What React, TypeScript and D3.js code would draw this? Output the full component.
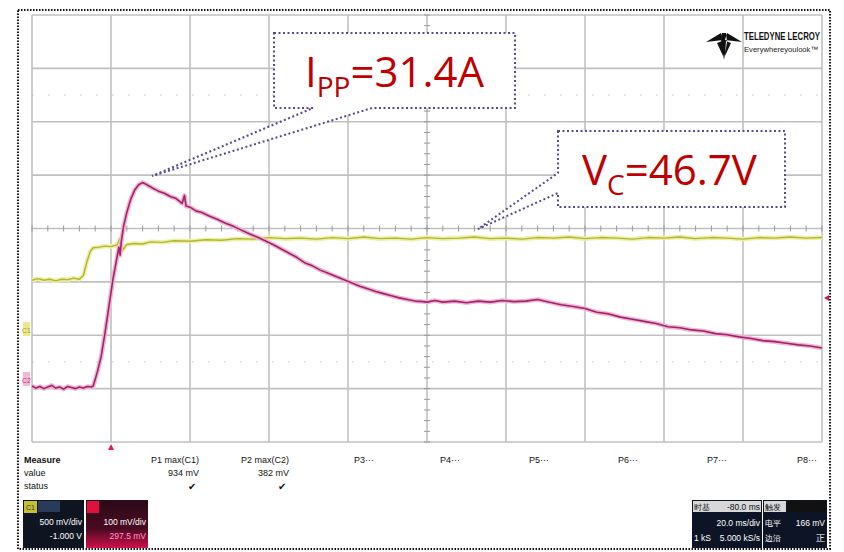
import React from "react";
import * as d3 from "d3";

// ---- data (time in ms, values in screen divisions) ----
const c1Time = [0, 1.5, 3, 4.5, 6, 7.5, 9, 10.5, 12, 13, 14, 14.8, 15.5, 17, 18.5, 20, 21.5, 22.2, 22.8, 24, 26, 28, 30, 33, 36, 40, 44, 48, 52, 56, 60, 64, 68, 72, 76, 80, 84, 88, 92, 96, 100, 104, 108, 112, 116, 120, 124, 128, 132, 136, 140, 144, 148, 152, 156, 160, 164, 168, 172, 176, 180, 184, 188, 192, 196, 200];
const c1Value = [-0.97, -0.94, -0.97, -0.95, -0.98, -0.95, -0.96, -0.93, -0.95, -0.88, -0.6, -0.42, -0.36, -0.35, -0.33, -0.34, -0.31, -0.2, -0.42, -0.3, -0.28, -0.29, -0.25, -0.26, -0.23, -0.24, -0.21, -0.22, -0.19, -0.2, -0.17, -0.19, -0.18, -0.2, -0.17, -0.19, -0.16, -0.19, -0.18, -0.2, -0.17, -0.19, -0.18, -0.16, -0.19, -0.18, -0.2, -0.17, -0.18, -0.16, -0.19, -0.17, -0.18, -0.2, -0.17, -0.18, -0.16, -0.19, -0.17, -0.18, -0.2, -0.17, -0.18, -0.16, -0.18, -0.17];

const c2Time = [0, 1, 2, 3, 4, 5, 6, 7, 8, 9, 10, 11, 12, 13, 14, 15, 15.5, 16.5, 17.5, 18.5, 19.5, 20.5, 21.5, 22.0, 22.3, 22.6, 23.2, 24, 25, 26, 27, 28, 28.6, 29.5, 30.5, 32, 33.5, 35, 36.5, 38, 38.6, 39, 40, 41.5, 43, 45, 47, 49, 51, 53, 55, 57, 59, 61, 63, 65, 67, 69, 71, 73, 75, 77, 79, 81, 83, 85, 87, 89, 91, 93, 95, 97, 99, 100, 102, 104, 107, 110, 113, 116, 119, 122, 125, 128, 131, 134, 137, 140, 143, 146, 149, 152, 155, 158, 161, 164, 167, 170, 173, 176, 179, 182, 185, 188, 191, 194, 197, 200];
const c2Value = [-2.95, -2.99, -2.96, -3.0, -2.97, -2.94, -2.99, -2.97, -3.01, -2.96, -2.98, -3.0, -2.97, -2.99, -2.96, -2.97, -2.95, -2.7, -2.4, -1.95, -1.45, -0.95, -0.55, -0.35, -0.5, -0.25, 0.05, 0.3, 0.55, 0.72, 0.82, 0.86, 0.84, 0.8, 0.76, 0.7, 0.66, 0.6, 0.56, 0.47, 0.62, 0.42, 0.4, 0.33, 0.3, 0.23, 0.17, 0.1, 0.04, -0.03, -0.1, -0.16, -0.23, -0.3, -0.38, -0.46, -0.54, -0.64, -0.7, -0.78, -0.84, -0.9, -0.96, -1.02, -1.08, -1.13, -1.18, -1.22, -1.26, -1.3, -1.33, -1.36, -1.37, -1.38, -1.35, -1.38, -1.36, -1.39, -1.36, -1.38, -1.35, -1.37, -1.36, -1.33, -1.38, -1.43, -1.46, -1.5, -1.57, -1.6, -1.66, -1.7, -1.74, -1.78, -1.84, -1.86, -1.9, -1.92, -1.97, -1.99, -2.03, -2.06, -2.1, -2.12, -2.15, -2.18, -2.2, -2.24];

const measureLabels = ["P1 max(C1)", "P2 max(C2)", "P3···", "P4···", "P5···", "P6···", "P7···", "P8···"];
const measureValues = ["934 mV", "382 mV", "", "", "", "", "", ""];
const xDivs = d3.range(0, 11);
const yDivs = d3.range(-4, 5);

const annotation1 = { main: "I", sub: "PP", rest: "=31.4A" };
const annotation2 = { main: "V", sub: "C", rest: "=46.7V" };

export default function App() {
  const left = 32, right = 822, top = 15, bottom = 442;
  const x = d3.scaleLinear().domain([0, 200]).range([left, right]);
  const y = d3.scaleLinear().domain([-4, 4]).range([bottom, top]);
  const xd = d3.scaleLinear().domain([0, 10]).range([left, right]);

  const line = d3.line<[number, number]>().x(d => x(d[0])).y(d => y(d[1]));
  const c1 = line(c1Time.map((t, i) => [t, c1Value[i]]) as [number, number][]) || "";
  const c2 = line(c2Time.map((t, i) => [t, c2Value[i]]) as [number, number][]) || "";

  const cx = xd(5), cy = y(0);
  const smallX = d3.range(0, 50.01, 1).map(i => xd(i / 5));
  const smallY = d3.range(-20, 20.01, 1).map(i => y(i / 5));

  const ff = "'Liberation Sans Narrow', 'Liberation Sans', Arial, sans-serif";
  const annFont = "'Open Sans', 'Noto Sans', sans-serif";
  const red = "#c00000";
  const purple = "#5b4a8b";

  return (
    <svg width={844} height={552} style={{ position: "absolute", left: 0, top: 0, background: "#fff" }}>
      {/* faint dotted rows */}
      {[y(2.5), y(-2.5)].map((yy, i) => (
        <line key={"f" + i} x1={left} x2={right} y1={yy} y2={yy} stroke="#e4e4e4" strokeWidth={2} strokeDasharray="2,14" />
      ))}
      {/* grid */}
      {xDivs.map(i => (
        <line key={"vx" + i} x1={xd(i)} x2={xd(i)} y1={top} y2={bottom} stroke="#c0c0c0" strokeWidth={1.6} />
      ))}
      {yDivs.map(i => (
        <line key={"hy" + i} x1={left} x2={right} y1={y(i)} y2={y(i)} stroke="#c0c0c0" strokeWidth={1.6} />
      ))}
      {smallX.map((xx, i) => (
        <line key={"tx" + i} x1={xx} x2={xx} y1={cy - 3} y2={cy + 3} stroke="#999" strokeWidth={1} />
      ))}
      {smallY.map((yy, i) => (
        <line key={"ty" + i} x1={cx - 3} x2={cx + 3} y1={yy} y2={yy} stroke="#999" strokeWidth={1} />
      ))}

      {/* traces */}
      <path d={c1} fill="none" stroke="#eef0a8" strokeWidth={4.5} strokeLinejoin="round" />
      <path d={c1} fill="none" stroke="#b4b434" strokeWidth={1.4} strokeLinejoin="round" />
      <path d={c2} fill="none" stroke="#f3b3d6" strokeWidth={4.5} strokeLinejoin="round" />
      <path d={c2} fill="none" stroke="#9c2668" strokeWidth={1.6} strokeLinejoin="round" />

      {/* channel labels & markers */}
      <rect x={23} y={322} width={7} height={14} fill="#e8e890" />
      <text x={26.5} y={333} fontSize={7} fill="#a0a020" textAnchor="middle" fontFamily={ff}>C1</text>
      <rect x={23} y={372} width={7} height={14} fill="#f4b8d8" />
      <text x={26.5} y={383} fontSize={7} fill="#c03080" textAnchor="middle" fontFamily={ff}>C2</text>
      <path d={`M${xd(1) - 3},${bottom + 8} L${xd(1) + 3},${bottom + 8} L${xd(1)},${bottom + 2} Z`} fill="#e02050" />
      <path d={`M${right + 7},${y(-1.3) - 3} L${right + 7},${y(-1.3) + 3} L${right + 2},${y(-1.3)} Z`} fill="#c02060" />

      {/* logo */}
      <g transform="translate(706,32)">
        <path d="M0,10 L15,1 L17,8 Z M36,10 L21,1 L19,8 Z M16,1 L20,1 L21,10 L18,28 L15,10 Z M11,11 L16,9 L17,24 Z M25,11 L20,9 L19,24 Z" fill="#111" />
        <text x={38} y={8} fontSize={10} fontWeight="bold" fontFamily={ff} fill="#111" textLength={76} lengthAdjust="spacingAndGlyphs">TELEDYNE LECROY</text>
        <text x={38} y={20} fontSize={8} fontFamily={ff} fill="#222" textLength={74} lengthAdjust="spacingAndGlyphs">Everywhereyoulook™</text>
      </g>

      {/* callouts */}
      <path d="M274,33 H515 V108 H372 L152,176 L313,108 H274 Z" fill="#fff" stroke={purple} strokeWidth={2} strokeDasharray="2,2.5" />
      <text x={305} y={87} fill={red} fontFamily={annFont} fontSize={42}>
        {annotation1.main}
        <tspan fontSize={28} dy={10}>{annotation1.sub}</tspan>
        <tspan dy={-10}>{annotation1.rest}</tspan>
      </text>
      <path d="M558,131 H785 V207 H558 V193 L478,229 L558,173 Z" fill="#fff" stroke={purple} strokeWidth={2} strokeDasharray="2,2.5" />
      <text x={582} y={185} fill={red} fontFamily={annFont} fontSize={42}>
        {annotation2.main}
        <tspan fontSize={28} dy={10}>{annotation2.sub}</tspan>
        <tspan dy={-10}>{annotation2.rest}</tspan>
      </text>

      {/* measure table */}
      <g fontFamily={ff} fontSize={9} fill="#111">
        <text x={24} y={463} fontWeight="bold">Measure</text>
        <text x={24} y={476}>value</text>
        <text x={24} y={489}>status</text>
        {measureLabels.map((m, i) => {
          const px = i < 2 ? [199, 289][i] : [354, 440, 529, 618, 707, 797][i - 2];
          return (
            <g key={m}>
              <text x={px} y={463} textAnchor={i < 2 ? "end" : "start"}>{m}</text>
              {measureValues[i] && <text x={px} y={476} textAnchor="end">{measureValues[i]}</text>}
              {measureValues[i] && <text x={px - 3} y={490} textAnchor="end" fontSize={10}>✔</text>}
            </g>
          );
        })}
      </g>

      {/* channel boxes */}
      <defs>
        <linearGradient id="c2g" x1="0" y1="0" x2="0" y2="1">
          <stop offset="0" stopColor="#2a0a18" />
          <stop offset="0.6" stopColor="#4a0a22" />
          <stop offset="1" stopColor="#d0104a" />
        </linearGradient>
      </defs>
      <g fontFamily={ff} fontSize={8.5}>
        <rect x={23} y={500} width={61} height={48} fill="#0e1420" />
        <rect x={38} y={501} width={22} height={11} fill="#2a3a5a" />
        <rect x={24} y={501} width={13} height={12} fill="#c8c030" />
        <text x={26} y={510} fontSize={7} fill="#333">C1</text>
        <text x={82} y={525} fill="#fff" textAnchor="end">500 mV/div</text>
        <text x={82} y={539} fill="#fff" textAnchor="end">-1.000 V</text>
        <rect x={86} y={500} width={62} height={48} fill="url(#c2g)" />
        <rect x={87} y={501} width={12} height={12} fill="#e01040" />
        <text x={146} y={525} fill="#fff" textAnchor="end">100 mV/div</text>
        <text x={146} y={539} fill="#ff9ac8" textAnchor="end">297.5 mV</text>

        <rect x={692} y={500} width={70} height={48} fill="#0c1426" />
        <rect x={693} y={501} width={68} height={11} fill="#d8d8d8" />
        <text x={694} y={510} fill="#111" fontSize={8}>时基</text>
        <text x={760} y={510} fill="#111" textAnchor="end">-80.0 ms</text>
        <text x={760} y={526} fill="#fff" textAnchor="end">20.0 ms/div</text>
        <text x={694} y={541} fill="#fff">1 kS</text>
        <text x={760} y={541} fill="#fff" textAnchor="end">5.000 kS/s</text>

        <rect x={763} y={500} width={64} height={48} fill="#0c1426" />
        <rect x={764} y={501} width={22} height={11} fill="#d8d8d8" />
        <rect x={787} y={501} width={39} height={11} fill="#111" />
        <text x={765} y={510} fill="#111" fontSize={8}>触发</text>
        <text x={765} y={526} fill="#fff" fontSize={8}>电平</text>
        <text x={825} y={526} fill="#fff" textAnchor="end">166 mV</text>
        <text x={765} y={541} fill="#fff" fontSize={8}>边沿</text>
        <text x={825} y={541} fill="#fff" textAnchor="end">正</text>
      </g>

      {/* outer dotted frame */}
      <rect x={18} y={10} width={812} height={539} fill="none" stroke="#111" strokeWidth={2} strokeDasharray="1.5,1.5" />
    </svg>
  );
}
